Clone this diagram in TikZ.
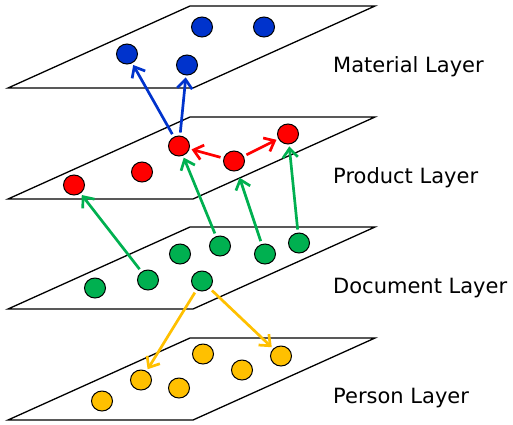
\documentclass[tikz,border=0pt]{standalone}
\usepackage{fontspec}
\setmainfont{DejaVu Sans}
\usetikzlibrary{shapes.geometric,arrows.meta}
\definecolor{cblue}{RGB}{0,51,204}
\definecolor{cred}{RGB}{255,0,0}
\definecolor{cgreen}{RGB}{0,176,80}
\definecolor{corange}{RGB}{255,192,0}
\tikzset{
  plane/.style={draw=black,line width=1.3pt,line join=miter},
  dot/.style={ellipse,draw=black,line width=1pt,minimum width=21pt,minimum height=20pt,inner sep=0pt},
  arr/.style={line width=2.7pt,-{Straight Barb[length=9pt,width=15pt,line width=2.7pt]},shorten <=3pt,shorten >=2pt},
  lbl/.style={anchor=base west,font=\fontsize{21}{24}\selectfont,inner sep=0pt}
}
\begin{document}
\begin{tikzpicture}[x=1pt,y=-1pt]
\useasboundingbox (0,0) rectangle (513,424);
% planes
\foreach \t in {6,117,227,338}{
  \draw[plane] (8,\t+82) -- (193,\t+82) -- (375,\t) -- (190,\t) -- cycle;
}
% labels
\node[lbl] (lm) at (333,72) {Material Layer};
\node[lbl] (lp) at (333,183) {Product Layer};
\node[lbl] (ld) at (333,293) {Document Layer};
\node[lbl] (lq) at (333,403) {Person Layer};
% material
\node[dot,fill=cblue] (m1) at (127,54) {};
\node[dot,fill=cblue] (m2) at (187,65) {};
\node[dot,fill=cblue] (m3) at (202,27) {};
\node[dot,fill=cblue] (m4) at (264,27) {};
% product
\node[dot,fill=cred] (p1) at (74,185) {};
\node[dot,fill=cred] (p2) at (142,172) {};
\node[dot,fill=cred] (p3) at (179,146) {};
\node[dot,fill=cred] (p4) at (234,161) {};
\node[dot,fill=cred] (p5) at (288,134) {};
% document
\node[dot,fill=cgreen] (d1) at (95,288) {};
\node[dot,fill=cgreen] (d2) at (148,280) {};
\node[dot,fill=cgreen] (d3) at (180,254) {};
\node[dot,fill=cgreen] (d4) at (202,281) {};
\node[dot,fill=cgreen] (d5) at (220,246) {};
\node[dot,fill=cgreen] (d6) at (265,254) {};
\node[dot,fill=cgreen] (d7) at (299,243) {};
% person
\node[dot,fill=corange] (q1) at (102,401) {};
\node[dot,fill=corange] (q2) at (141,380) {};
\node[dot,fill=corange] (q3) at (179,388) {};
\node[dot,fill=corange] (q4) at (203,354) {};
\node[dot,fill=corange] (q5) at (242,370) {};
\node[dot,fill=corange] (q6) at (281,356) {};
% arrows
\draw[arr,cblue] (p3) -- (m1);
\draw[arr,cblue] (p3) -- (m2);
\draw[arr,cred] (p4) -- (p3);
\draw[arr,cred] (p4) -- (p5);
\draw[arr,cgreen] (d2) -- (p1);
\draw[arr,cgreen] (d5) -- (p3);
\draw[arr,cgreen,shorten >=7pt] (d6) -- (p4);
\draw[arr,cgreen] (d7) -- (p5);
\draw[arr,corange] (d4) -- (q2);
\draw[arr,corange] (d4) -- (q6);
\end{tikzpicture}
\end{document}
